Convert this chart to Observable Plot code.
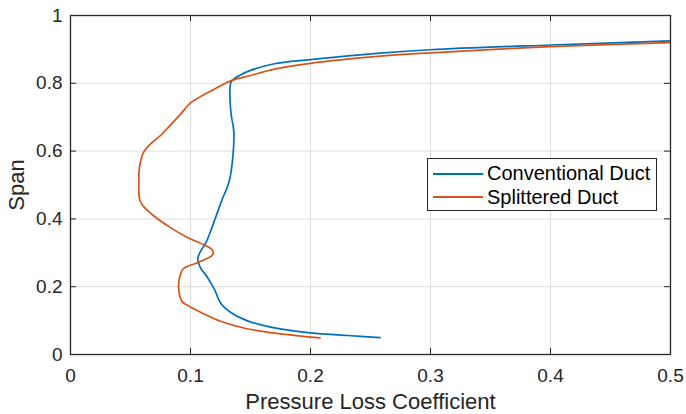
<!DOCTYPE html>
<html>
<head>
<meta charset="utf-8">
<script src="https://cdn.jsdelivr.net/npm/d3@7"></script>
<script src="https://cdn.jsdelivr.net/npm/@observablehq/plot@0.6"></script>
<style>
  body { margin: 0; background: #fff; }
  #chart { position: relative; width: 686px; height: 414px; font-family: "Liberation Sans", Arial, sans-serif; }
  .legend { position: absolute; left: 427px; top: 158px; width: 228px; height: 51px;
            border: 1px solid #262626; background: #fff; }
  .legend .row { position: absolute; left: 0; height: 23px; width: 100%; }
  .legend .swatch { position: absolute; left: 5px; top: 10.5px; width: 50px; height: 2px; }
  .legend .name { position: absolute; left: 59px; top: 0; line-height: 23px; font-size: 20px; color: #000; white-space: nowrap; }
</style>
</head>
<body>
<div id="chart"></div>
<script>
// Pressure loss coefficient profiles along the span
const seriesNames = ["Conventional Duct", "Splittered Duct"];
const seriesColors = ["#0072BD", "#D95319"];

const conventionalLoss = [0.258, 0.231, 0.2, 0.183, 0.164, 0.147, 0.134, 0.125, 0.12, 0.114, 0.108, 0.106, 0.108, 0.113, 0.117, 0.121, 0.126, 0.132, 0.135, 0.136, 0.134, 0.133, 0.134, 0.142, 0.15, 0.169, 0.2, 0.258, 0.3, 0.4, 0.5];
const conventionalSpan = [0.05, 0.056, 0.064, 0.071, 0.083, 0.1, 0.123, 0.152, 0.192, 0.228, 0.258, 0.282, 0.302, 0.331, 0.366, 0.405, 0.454, 0.508, 0.572, 0.661, 0.705, 0.749, 0.805, 0.825, 0.838, 0.857, 0.87, 0.889, 0.899, 0.913, 0.925];

const splitteredLoss = [0.208, 0.175, 0.147, 0.125, 0.11, 0.1, 0.093, 0.091, 0.09, 0.091, 0.094, 0.103, 0.111, 0.118, 0.119, 0.117, 0.111, 0.097, 0.083, 0.069, 0.06, 0.0575, 0.057, 0.057, 0.058, 0.061, 0.067, 0.075, 0.083, 0.092, 0.1, 0.108, 0.118, 0.134, 0.15, 0.169, 0.2, 0.258, 0.3, 0.4, 0.5];
const splitteredSpan = [0.049, 0.061, 0.076, 0.098, 0.122, 0.14, 0.156, 0.174, 0.199, 0.228, 0.253, 0.267, 0.279, 0.292, 0.302, 0.312, 0.324, 0.346, 0.375, 0.41, 0.44, 0.459, 0.513, 0.533, 0.563, 0.597, 0.622, 0.646, 0.676, 0.71, 0.742, 0.76, 0.779, 0.808, 0.823, 0.841, 0.859, 0.88, 0.89, 0.908, 0.92];

const xTicks = [0, 0.1, 0.2, 0.3, 0.4, 0.5];
const yTicks = [0, 0.2, 0.4, 0.6, 0.8, 1];

const toPoints = (xs, ys) => xs.map((x, i) => ({x, y: ys[i]}));
const conventional = toPoints(conventionalLoss, conventionalSpan);
const splittered = toPoints(splitteredLoss, splitteredSpan);

const axisColor = "#262626";
const gridColor = "#dedede";
const tickLen = 6;
const W = 686, H = 414, mL = 70, mR = 16, mT = 15, mB = 60;
const innerW = W - mL - mR, innerH = H - mT - mB;

const chart = Plot.plot({
  width: W, height: H,
  marginLeft: mL, marginRight: mR, marginTop: mT, marginBottom: mB,
  style: { fontFamily: '"Liberation Sans", Arial, sans-serif', fontSize: "19px", color: axisColor, background: "#fff" },
  x: { domain: [0, 0.5] },
  y: { domain: [0, 1] },
  marks: [
    Plot.gridX(xTicks, { stroke: gridColor, strokeOpacity: 1, strokeWidth: 1 }),
    Plot.gridY(yTicks, { stroke: gridColor, strokeOpacity: 1, strokeWidth: 1 }),
    Plot.line(conventional, { x: "x", y: "y", stroke: seriesColors[0], strokeWidth: 1.7, curve: "catmull-rom", clip: true }),
    Plot.line(splittered, { x: "x", y: "y", stroke: seriesColors[1], strokeWidth: 1.7, curve: "catmull-rom", clip: true }),
    Plot.frame({ stroke: axisColor, strokeWidth: 1.3 }),
    // inward tick marks on all four sides
    Plot.ruleX(xTicks, { x: d => d, insetTop: innerH - tickLen, stroke: axisColor }),
    Plot.ruleX(xTicks, { x: d => d, insetBottom: innerH - tickLen, stroke: axisColor }),
    Plot.ruleY(yTicks, { y: d => d, insetRight: innerW - tickLen, stroke: axisColor }),
    Plot.ruleY(yTicks, { y: d => d, insetLeft: innerW - tickLen, stroke: axisColor }),
    Plot.axisX(xTicks, { tickSize: 0, tickPadding: 14, tickFormat: d => String(d), fontSize: 19, fill: axisColor,
      label: "Pressure Loss Coefficient", labelAnchor: "center", labelArrow: "none", labelOffset: 54 }),
    Plot.axisY(yTicks, { tickSize: 0, tickPadding: 8, tickFormat: d => String(d), fontSize: 19, fill: axisColor,
      label: "Span", labelAnchor: "center", labelArrow: "none", labelOffset: 62 })
  ]
});

d3.select(chart).selectAll('[aria-label="x-axis label"], [aria-label="y-axis label"]').attr("font-size", 22);

const root = document.getElementById("chart");
root.appendChild(chart);

// legend box
const legend = document.createElement("div");
legend.className = "legend";
seriesNames.forEach((name, i) => {
  const row = document.createElement("div");
  row.className = "row";
  row.style.top = (3 + i * 23.5) + "px";
  const sw = document.createElement("div");
  sw.className = "swatch";
  sw.style.background = seriesColors[i];
  const label = document.createElement("div");
  label.className = "name";
  label.textContent = name;
  row.appendChild(sw);
  row.appendChild(label);
  legend.appendChild(row);
});
root.appendChild(legend);
</script>
</body>
</html>
